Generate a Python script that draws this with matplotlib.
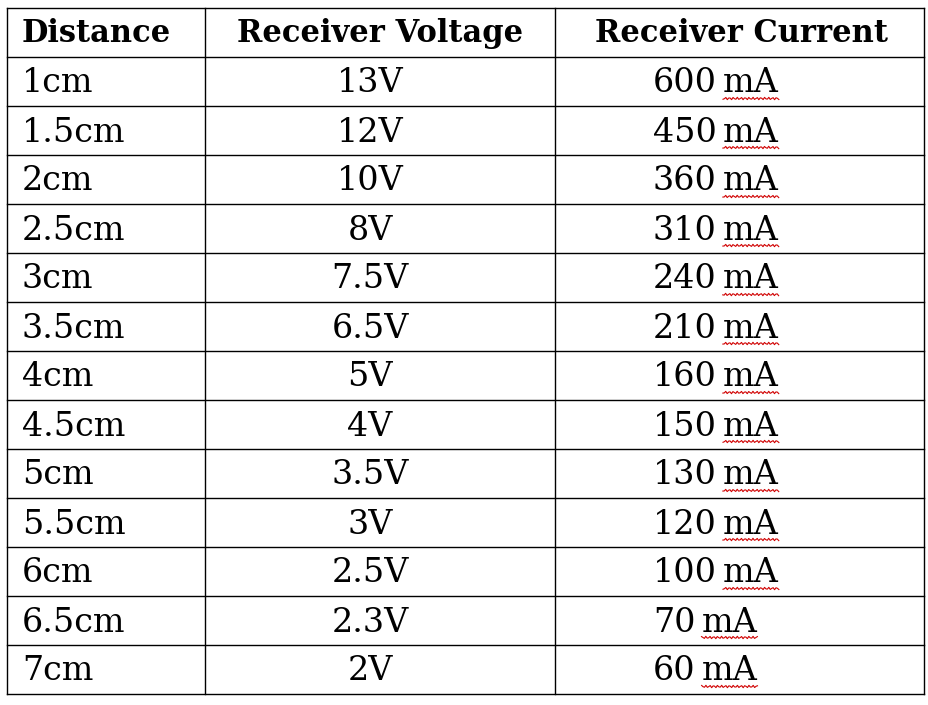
import matplotlib
matplotlib.use("Agg")
import matplotlib.pyplot as plt
import numpy as np

headers = ["Distance", "Receiver Voltage", "Receiver Current"]
distances = ["1cm", "1.5cm", "2cm", "2.5cm", "3cm", "3.5cm", "4cm", "4.5cm",
             "5cm", "5.5cm", "6cm", "6.5cm", "7cm"]
voltages = ["13V", "12V", "10V", "8V", "7.5V", "6.5V", "5V", "4V", "3.5V",
            "3V", "2.5V", "2.3V", "2V"]
currents = [600, 450, 360, 310, 240, 210, 160, 150, 130, 120, 100, 70, 60]

W, H = 929, 705
fig = plt.figure(figsize=(W/100, H/100), dpi=100)
ax = fig.add_axes([0, 0, 1, 1])
ax.set_xlim(0, W); ax.set_ylim(H, 0); ax.axis("off")

left, right, top, bottom = 7, 924, 8, 694
cols = [left, 205, 555, right]
nrows = len(distances) + 1
rh = (bottom - top) / nrows
for i in range(nrows + 1):
    ax.plot([left, right], [top + i*rh]*2, color="black", lw=1)
for x in cols:
    ax.plot([x, x], [top, bottom], color="black", lw=1)

serif = "DejaVu Serif"
fs = 24
hfs = 22
hy = top + rh/2 + 1
ax.text(22, hy, headers[0], fontsize=hfs, fontweight="bold", family=serif, va="center", ha="left")
ax.text(380, hy, headers[1], fontsize=hfs, fontweight="bold", family=serif, va="center", ha="center")
ax.text(742, hy, headers[2], fontsize=hfs, fontweight="bold", family=serif, va="center", ha="center")

fig.canvas.draw()
r = fig.canvas.get_renderer()
inv = ax.transData.inverted()
for i, (d, v, c) in enumerate(zip(distances, voltages, currents)):
    y = top + (i + 1.5)*rh + 2
    ax.text(22, y, d, fontsize=fs, family=serif, va="center", ha="left")
    ax.text(370, y, v, fontsize=fs, family=serif, va="center", ha="center")
    t = ax.text(653, y, str(c), fontsize=fs, family=serif, va="center", ha="left")
    bb = t.get_window_extent(r)
    x1 = inv.transform((bb.x1, bb.y0))[0]
    m = ax.text(x1 + 6, y, "mA", fontsize=fs, family=serif, va="center", ha="left")
    mb = m.get_window_extent(r)
    (mx0, my0), (mx1, _) = inv.transform((mb.x0, mb.y0)), inv.transform((mb.x1, mb.y1))
    xs = np.linspace(mx0, mx1, 40)
    ax.plot(xs, my0 - 1 + 1.2*np.sin(xs*1.6), color="#d00000", lw=0.8)

fig.savefig("out.png", dpi=100, facecolor="white")
